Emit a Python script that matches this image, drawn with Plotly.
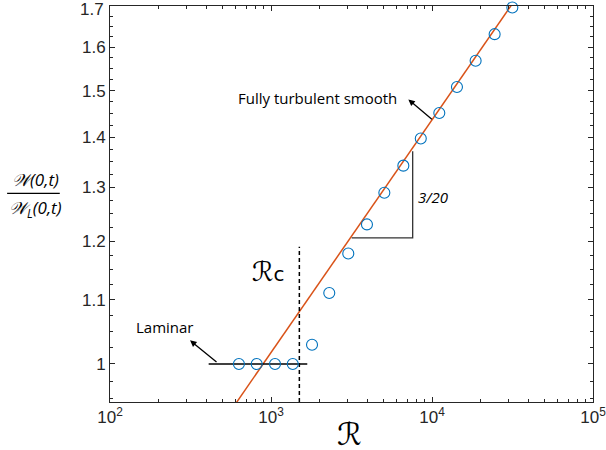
import math
import plotly.graph_objects as go

# ---- data ----
R_data = [632, 815, 1059, 1365, 1798, 2301, 3020, 3945, 5058, 6637, 8517,
          11100, 14290, 18660, 24490, 31550]
W_ratio = [1.0, 1.0, 1.0, 1.0, 1.029, 1.111, 1.178, 1.230, 1.289, 1.342, 1.397,
           1.451, 1.508, 1.568, 1.631, 1.697]

fit_R = [600, 35000]            # turbulent fit endpoints (slope 3/20)
fit_W = [0.942, 1.733]

lam_R = [410, 1680]             # laminar line
lam_W = [1.0, 1.0]

Rc_R = [1500, 1500]             # critical R
Rc_W = [0.945, 1.19]

tri_R = [3170, 7586, 7586]      # slope triangle
tri_W = [1.2055, 1.2055, 1.371]

x_tickvals = [100, 1000, 10000, 100000]
x_ticktext = ["10<sup>2</sup>", "10<sup>3</sup>", "10<sup>4</sup>", "10<sup>5</sup>"]
y_tickvals = [1.0, 1.1, 1.2, 1.3, 1.4, 1.5, 1.6, 1.7]
y_ticktext = ["1", "1.1", "1.2", "1.3", "1.4", "1.5", "1.6", "1.7"]

x_minor = [m * 10 ** e for e in (2, 3, 4) for m in range(2, 10)]
y_minor = [0.95, 0.975, 1.025, 1.05, 1.075, 1.125, 1.15, 1.175, 1.225, 1.25, 1.275,
           1.325, 1.35, 1.375, 1.425, 1.45, 1.475, 1.525, 1.55, 1.575,
           1.625, 1.65, 1.675]

AX = "#262626"
fig = go.Figure()

fig.add_trace(go.Scatter(x=fit_R, y=fit_W, mode="lines",
                         line=dict(color="#D95319", width=1.5), hoverinfo="skip"))
fig.add_trace(go.Scatter(x=lam_R, y=lam_W, mode="lines",
                         line=dict(color="black", width=1.5), hoverinfo="skip"))
fig.add_trace(go.Scatter(x=Rc_R, y=Rc_W, mode="lines",
                         line=dict(color="black", width=1.5, dash="4px,3px"), hoverinfo="skip"))
fig.add_trace(go.Scatter(x=tri_R, y=tri_W, mode="lines",
                         line=dict(color="#333333", width=1.3), hoverinfo="skip"))
fig.add_trace(go.Scatter(x=R_data, y=W_ratio, mode="markers", cliponaxis=False,
                         marker=dict(symbol="circle-open", size=11, color="#0072BD",
                                     line=dict(width=1.1, color="#0072BD"))))

tickfont = dict(family="Liberation Sans, Arial, sans-serif", size=17, color=AX)
common = dict(ticks="inside", ticklen=5, tickwidth=1, tickcolor=AX,
              showline=True, linecolor=AX, linewidth=1, mirror="ticks",
              showgrid=False, zeroline=False, tickfont=tickfont,
              automargin=False, ticklabeloverflow="allow")
# the top label is drawn as an annotation slightly lowered (as in the reference)
y_ticktext_axis = y_ticktext[:-1] + [""]
fig.update_xaxes(type="log", range=[2, 5], tickvals=x_tickvals, ticktext=x_ticktext,
                 minor=dict(tickvals=x_minor, ticks="inside", ticklen=3, tickcolor=AX,
                            showgrid=False), **common)
fig.update_yaxes(type="log", range=[-0.0245, 0.2306], tickvals=y_tickvals, ticktext=y_ticktext_axis,
                 minor=dict(tickvals=y_minor, ticks="inside", ticklen=3, tickcolor=AX,
                            showgrid=False), **common)

txt = dict(family="Open Sans, sans-serif", size=15, color="black")
C = dict(xref="paper", yref="paper", xanchor="center", yanchor="middle", showarrow=False)
ann = [
    dict(x=0, y=math.log10(y_tickvals[-1]), xref="paper", yref="y", xanchor="right",
         yanchor="middle", xshift=-4, yshift=-3, showarrow=False,
         text=y_ticktext[-1], font=tickfont),
    dict(x=0.429, y=0.767, text="Fully turbulent smooth", font=txt, **C),
    dict(x=0.1146, y=0.190, text="Laminar", font=txt, **C),
    dict(x=0.668, y=0.518, text="<i>3/20</i>", font=txt, **C),
    dict(x=0.329, y=0.330, text="ℛ<span style='font-size:20px'>c</span>",
         font=dict(family="DejaVu Sans, sans-serif", size=27, color="black"), **C),
    dict(x=0.495, y=-0.081, text="ℛ",
         font=dict(family="DejaVu Sans, sans-serif", size=31, color="black"), **C),
    dict(x=-0.155, y=0.562, text="<i>𝒲(0,t)</i>",
         font=dict(family="Open Sans, sans-serif", size=17, color="black"), **C),
    dict(x=-0.155, y=0.488, text="<i>𝒲<sub>L</sub>(0,t)</i>",
         font=dict(family="Open Sans, sans-serif", size=17, color="black"), **C),
    # arrows
    dict(x=3.853, y=0.1704, xref="x", yref="y", text="", showarrow=True,
         ax=25, ay=21, arrowhead=2, arrowsize=1, arrowwidth=1.3, arrowcolor="black"),
    dict(x=2.497, y=0.01522, xref="x", yref="y", text="", showarrow=True,
         ax=28, ay=23, arrowhead=2, arrowsize=1, arrowwidth=1.3, arrowcolor="black"),
]
fig.update_layout(
    width=606, height=450, margin=dict(l=110, r=13, t=6, b=48),
    plot_bgcolor="white", paper_bgcolor="white", showlegend=False,
    annotations=ann,
    shapes=[dict(type="line", xref="paper", yref="paper", x0=-0.213, x1=-0.104,
                 y0=0.527, y1=0.527, line=dict(color="black", width=1.3))],
)
fig.write_html("out.html", config={"displayModeBar": False})
with open("out.html", encoding="utf-8") as f:
    html = f.read()
html = html.replace("<body>", "<body style=\"margin:0;padding:0\">", 1)
with open("out.html", "w", encoding="utf-8") as f:
    f.write(html)
